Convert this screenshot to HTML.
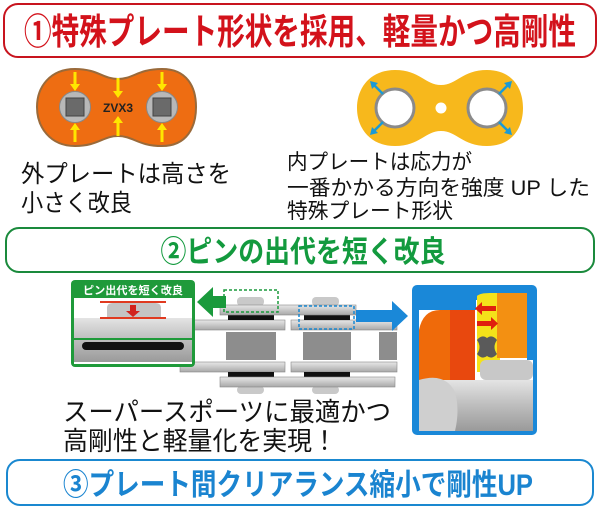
<!DOCTYPE html>
<html><head><meta charset="utf-8"><style>
html,body{margin:0;padding:0;background:#fff;}
svg{display:block;}
text{font-family:"Liberation Sans","Noto Sans CJK JP",sans-serif;}
</style></head><body>
<svg width="600" height="510" viewBox="0 0 600 510" xmlns="http://www.w3.org/2000/svg">
<defs>
<linearGradient id="cyl" x1="0" y1="0" x2="0" y2="1"><stop offset="0" stop-color="#e4e4e4"/><stop offset="0.5" stop-color="#bdbdbd"/><stop offset="1" stop-color="#9a9a9a"/></linearGradient>
<linearGradient id="plt" x1="0" y1="0" x2="0" y2="1"><stop offset="0" stop-color="#e8e8e8"/><stop offset="1" stop-color="#a8a8a8"/></linearGradient>
</defs>
<!-- Banner 1 -->
<rect x="4" y="4" width="592" height="53" rx="14" fill="#fff" stroke="#c8141e" stroke-width="2"/>
<text x="300" y="44" text-anchor="middle" font-size="36" font-weight="bold" fill="#d3121b" textLength="552" lengthAdjust="spacingAndGlyphs">①特殊プレート形状を採用、軽量かつ高剛性</text>
<!-- outer plate -->
<path d="M75,69 C98,69 103,79 118,79 C133,79 138,69 162,69 C187,69 196,87 196,107 C196,127 187,146 162,146 C138,146 133,136 118,136 C103,136 98,146 75,146 C50,146 37,127 37,107 C37,87 50,69 75,69 Z" fill="#ee6d12" stroke="#9a6a3a" stroke-width="2"/>
<circle cx="75" cy="107" r="15.5" fill="#b8b8b8" stroke="#888" stroke-width="1"/>
<rect x="66" y="98" width="18" height="18" fill="#6a6a6a" stroke="#444"/>
<circle cx="162" cy="107" r="15.5" fill="#b8b8b8" stroke="#888" stroke-width="1"/>
<rect x="153" y="98" width="18" height="18" fill="#6a6a6a" stroke="#444"/>
<text x="118" y="112" text-anchor="middle" font-size="12" font-weight="bold" fill="#222">ZVX3</text>
<g fill="#ffe600">
<rect x="73.5" y="72" width="3" height="12"/><path d="M70,84 L80,84 L75,91 Z"/>
<rect x="116.5" y="78" width="3" height="13"/><path d="M113,91 L123,91 L118,98 Z"/>
<rect x="160.5" y="72" width="3" height="12"/><path d="M157,84 L167,84 L162,91 Z"/>
<rect x="73.5" y="130" width="3" height="12"/><path d="M70,130 L80,130 L75,123 Z"/>
<rect x="116.5" y="123" width="3" height="13"/><path d="M113,123 L123,123 L118,116 Z"/>
<rect x="160.5" y="130" width="3" height="12"/><path d="M157,130 L167,130 L162,123 Z"/>
</g>
<!-- inner plate -->
<path d="M395,70 C420,70 425,85 441,85 C457,85 462,70 487,70 C512,70 523,88 523,108 C523,128 512,146 487,146 C462,146 457,131 441,131 C425,131 420,146 395,146 C370,146 357,128 357,108 C357,88 370,70 395,70 Z" fill="#f7b81c"/>
<circle cx="395" cy="108" r="19" fill="#fff" stroke="#8a8a8a" stroke-width="3"/>
<circle cx="487" cy="108" r="19" fill="#fff" stroke="#8a8a8a" stroke-width="3"/>
<circle cx="441" cy="108" r="5.5" fill="#fff"/>
<g stroke="#1a9ad6" stroke-width="2.5" fill="#1a9ad6">
<line x1="383" y1="94" x2="374" y2="85"/><line x1="499" y1="94" x2="508" y2="85"/>
<line x1="383" y1="122" x2="374" y2="131"/><line x1="499" y1="122" x2="508" y2="131"/>
</g>
<g fill="#1a9ad6">
<path d="M370,81 L378,83 L372,89 Z"/><path d="M512,81 L504,83 L510,89 Z"/>
<path d="M370,135 L378,133 L372,127 Z"/><path d="M512,135 L504,133 L510,127 Z"/>
</g>
<text x="21" y="182" font-size="24" fill="#111" textLength="210" lengthAdjust="spacingAndGlyphs">外プレートは高さを</text>
<text x="21" y="211" font-size="24" fill="#111" textLength="111" lengthAdjust="spacingAndGlyphs">小さく改良</text>
<text x="287" y="169" font-size="21" fill="#111" textLength="185" lengthAdjust="spacingAndGlyphs">内プレートは応力が</text>
<text x="287" y="195" font-size="21" fill="#111" textLength="303" lengthAdjust="spacingAndGlyphs">一番かかる方向を強度 UP した</text>
<text x="287" y="218" font-size="21" fill="#111" textLength="166" lengthAdjust="spacingAndGlyphs">特殊プレート形状</text>
<!-- Banner 2 -->
<rect x="6" y="228" width="588" height="44" rx="13" fill="#fff" stroke="#1a8a3c" stroke-width="2"/>
<text x="303" y="262" text-anchor="middle" font-size="30" font-weight="bold" fill="#139a3e" textLength="285" lengthAdjust="spacingAndGlyphs">②ピンの出代を短く改良</text>
<!-- chain -->
<rect x="192" y="320" width="93" height="10" fill="url(#plt)" stroke="#888" stroke-width="0.6"/>
<rect x="291" y="320" width="106" height="10" fill="url(#plt)" stroke="#888" stroke-width="0.6"/>
<rect x="180" y="362" width="105" height="10" fill="url(#plt)" stroke="#888" stroke-width="0.6"/>
<rect x="291" y="362" width="106" height="10" fill="url(#plt)" stroke="#888" stroke-width="0.6"/>
<rect x="226" y="332" width="50" height="28" fill="#8d8d8d"/>
<rect x="303" y="332" width="48" height="28" fill="#8d8d8d"/>
<rect x="379" y="332" width="18" height="28" fill="#8d8d8d"/>
<rect x="228" y="315" width="46" height="5" fill="#111"/>
<rect x="304" y="315" width="46" height="5" fill="#111"/>
<rect x="228" y="372" width="46" height="5" fill="#111"/>
<rect x="304" y="372" width="46" height="5" fill="#111"/>
<rect x="237" y="297" width="27" height="9" rx="4" fill="#c9c9c9"/>
<rect x="312" y="297" width="27" height="9" rx="4" fill="#c9c9c9"/>
<rect x="237" y="386" width="27" height="8" rx="4" fill="#c9c9c9"/>
<rect x="312" y="386" width="27" height="8" rx="4" fill="#c9c9c9"/>
<rect x="220" y="305" width="136" height="10" fill="url(#plt)" stroke="#888" stroke-width="0.6"/>
<rect x="220" y="377" width="175" height="10" fill="url(#plt)" stroke="#888" stroke-width="0.6"/>
<rect x="224" y="290" width="54" height="22" fill="none" stroke="#1a9a3c" stroke-width="1.5" stroke-dasharray="3,2"/>
<rect x="299" y="306" width="55" height="23" fill="none" stroke="#1a88d0" stroke-width="1.5" stroke-dasharray="3,2"/>
<!-- arrows -->
<path d="M226,296 L213,296 L213,287 L197,302 L213,317 L213,308 L226,308 Z" fill="#1a9a3c"/>
<path d="M356,310 L392,310 L392,301 L408,316 L392,331 L392,322 L356,322 Z" fill="#1a88d8"/>
<!-- green box -->
<rect x="71" y="280" width="124" height="87" rx="4" fill="#1f9a3a"/>
<rect x="74" y="298" width="118" height="66" fill="#fff"/>
<text x="133" y="294" text-anchor="middle" font-size="11" font-weight="bold" fill="#fff" textLength="100" lengthAdjust="spacingAndGlyphs">ピン出代を短く改良</text>
<rect x="74" y="318" width="118" height="44" fill="url(#cyl)"/>
<path d="M107,318 L107,308 Q107,303 113,303 L155,303 Q161,303 161,308 L161,318 Z" fill="#c4c4c4"/>
<rect x="100" y="301" width="66" height="2" fill="#e03a20"/>
<rect x="100" y="317" width="66" height="2" fill="#e03a20"/>
<rect x="130" y="305" width="6" height="6" fill="#d2231d"/><path d="M126,311 L140,311 L133,317 Z" fill="#d2231d"/>
<rect x="82" y="342" width="102" height="8" rx="4" fill="#111"/>
<rect x="74" y="338" width="118" height="2" fill="#1f9a3a"/>
<!-- blue box -->
<rect x="412" y="285" width="125" height="150" rx="5" fill="#1a88d8"/>
<rect x="416" y="289" width="117" height="142" rx="3" fill="#fff"/>
<path d="M416,289 L533,289 L533,300 L416,300 Z" fill="#1a88d8"/>
<path d="M416,300 L476,300 L476,310 L416,310 Z" fill="#1a88d8"/>
<rect x="416" y="310" width="3" height="121" fill="#1a88d8"/>
<rect x="527" y="300" width="6" height="60" fill="#1a88d8"/>
<path d="M477,296 Q480,293 490,293 L500,293 L500,372 L477,372 Z" fill="#f4e21a"/>
<path d="M419,380 L419,330 Q423,310 440,310 L475,310 L475,380 Z" fill="#ef6a0a"/>
<rect x="450" y="310" width="25" height="70" fill="#e8480e"/>
<rect x="497" y="293" width="30" height="65" fill="#f39012"/>
<path d="M477,340 Q482,334 487,338 Q492,334 497,340 Q492,347 497,354 Q492,360 487,356 Q482,360 477,354 Q482,347 477,340 Z" fill="#5a5a5a"/>
<rect x="482" y="306" width="14" height="5" fill="#e0200e"/><path d="M482,302 L482,315 L475,308.5 Z" fill="#e0200e"/>
<rect x="477" y="321" width="14" height="5" fill="#e0200e"/><path d="M491,317 L491,330 L498,323.5 Z" fill="#e0200e"/>
<rect x="480" y="360" width="53" height="20" rx="6" fill="#c8c8c8"/>
<rect x="419" y="380" width="114" height="51" fill="url(#cyl)"/>
<path d="M419,380 Q445,372 455,392 Q460,410 455,431 L419,431 Z" fill="#cfcfcf"/>
<!-- chain text -->
<text x="63" y="421" font-size="26" fill="#111" textLength="328" lengthAdjust="spacingAndGlyphs">スーパースポーツに最適かつ</text>
<text x="63" y="450" font-size="26" fill="#111" textLength="274" lengthAdjust="spacingAndGlyphs">高剛性と軽量化を実現！</text>
<!-- Banner 3 -->
<rect x="7" y="460" width="586" height="45" rx="13" fill="#fff" stroke="#1a88d0" stroke-width="2"/>
<text x="63" y="495" font-size="30" font-weight="bold" fill="#1a84d0" textLength="470" lengthAdjust="spacingAndGlyphs">③プレート間クリアランス縮小で剛性UP</text>
</svg>
</body></html>
